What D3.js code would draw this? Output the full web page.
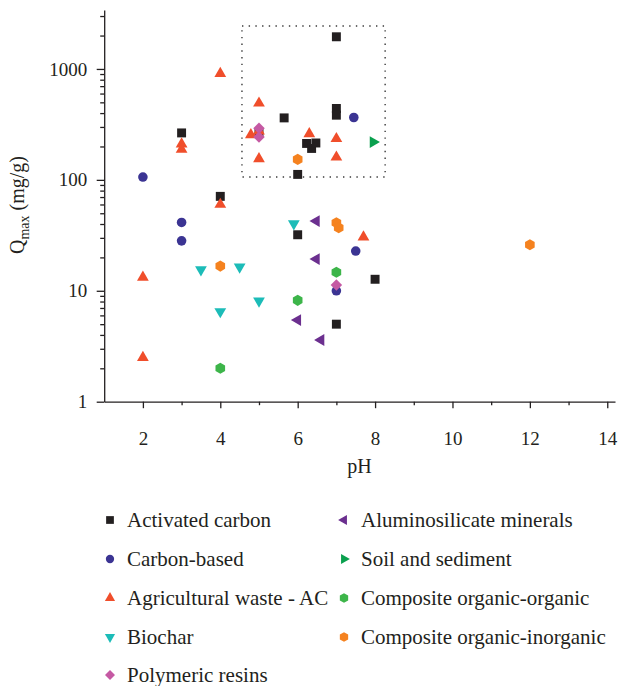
<!DOCTYPE html>
<html>
<head>
<meta charset="utf-8">
<script src="https://cdn.jsdelivr.net/npm/d3@7"></script>
<style>
  body { margin: 0; background: #fff; }
  svg { display: block; }
  svg text { font-family: "Times New Roman", "Liberation Serif", Tinos, "DejaVu Serif", serif; }
  .axis path, .axis line { stroke: #231f20; stroke-width: 1.3; }
  .axis text { font-size: 19px; fill: #231f20; }
  .legend text { font-size: 21px; fill: #231f20; }
</style>
</head>
<body>
<div id="chart"></div>
<script>
(function (d3) {
    'use strict';

    // Series names, in legend order.
    var categories = [
        'Activated carbon', 'Carbon-based', 'Agricultural waste - AC', 'Biochar',
        'Polymeric resins', 'Aluminosilicate minerals', 'Soil and sediment',
        'Composite organic-organic', 'Composite organic-inorganic'
    ];

    // [pH, Qmax (mg/g)].
    var activatedCarbon = [[3, 265], [4, 71], [5, 268], [5.65, 362], [6, 112], [6, 32],
        [6.23, 213], [6.36, 192], [6.47, 215], [7, 1950], [7, 440], [7, 383], [7, 5.0], [8, 12.7]];
    var carbonBased = [[2, 106], [3, 41.3], [3, 28.2], [7.45, 365], [7.5, 22.8], [7, 10.0]];
    var agriculturalWaste = [[2, 13.2], [2, 2.5], [3, 210], [3, 188], [4, 910], [4, 60],
        [4.79, 255], [5, 491], [5, 275], [5, 155], [6.3, 260], [7, 235], [7, 160], [7.7, 30.5]];
    var biochar = [[3.5, 15.5], [4.5, 16.4], [5, 8.1], [4, 6.5], [5.9, 40.3]];
    var polymericResins = [[5, 292], [5, 243], [7, 11.25]];
    var aluminosilicate = [[6.48, 42.5], [6.48, 19.3], [6.0, 5.45], [6.6, 3.6]];
    var soilSediment = [[7.95, 219]];
    var compositeOO = [[4, 2.0], [6, 8.2], [7, 14.7]];
    var compositeOI = [[4, 16.7], [6, 153], [7, 41], [7.06, 37], [12, 26]];

    var series = [activatedCarbon, carbonBased, agriculturalWaste, biochar, polymericResins,
        aluminosilicate, soilSediment, compositeOO, compositeOI];

    // Axis ticks.
    var xTicks = [2, 4, 6, 8, 10, 12, 14];
    var xMinorTicks = [3, 5, 7, 9, 11, 13];
    var yTicks = [1, 10, 100, 1000];
    var yTickLabels = ['1', '10', '100', '1000'];
    var yMinorSteps = [2, 3, 4, 5, 6, 7, 8, 9];

    // Zoomed region marked with a dotted frame.
    var boxPH = [4.56, 8.26];
    var boxQ = [106, 2440];

    var colors = ['#231f20', '#3b3493', '#f04e2b', '#1cbcb8', '#c559a3',
        '#6b2f8f', '#0aa04e', '#3db54a', '#f5821f'];

    // Hexagon marker (d3 has none).
    var symbolHexagon = {
        draw: function (context, size) {
            var r = Math.sqrt(2 * size / (3 * Math.sqrt(3)));
            for (var i = 0; i < 6; i++) {
                var a = -Math.PI / 2 + i * Math.PI / 3;
                if (i === 0) context.moveTo(r * Math.cos(a), r * Math.sin(a));
                else context.lineTo(r * Math.cos(a), r * Math.sin(a));
            }
            context.closePath();
        }
    };

    // symbol type, size, rotation for each series
    var markers = [
        {type: d3.symbolSquare, size: 80, rot: 0},
        {type: d3.symbolCircle, size: 72, rot: 0},
        {type: d3.symbolTriangle, size: 60, rot: 0},
        {type: d3.symbolTriangle, size: 60, rot: 180},
        {type: d3.symbolSquare, size: 66, rot: 45},
        {type: d3.symbolTriangle, size: 60, rot: -90},
        {type: d3.symbolTriangle, size: 60, rot: 90},
        {type: symbolHexagon, size: 80, rot: 0},
        {type: symbolHexagon, size: 80, rot: 0}
    ];

    var margin = {top: 10, left: 104.2};
    var width = 510.8;
    var height = 391.7;

    var x = d3.scaleLinear().domain([1, 14.2]).range([0, width]);
    var y = d3.scaleLog().domain([1, 3400]).range([height, 0]);

    var svg = d3.select('#chart').append('svg')
        .attr('width', 619)
        .attr('height', 686);

    var vis = svg.append('g')
        .attr('transform', 'translate(' + margin.left + ',' + margin.top + ')');

    // x-axis
    vis.append('g')
        .attr('class', 'axis x-minor')
        .attr('transform', 'translate(0,' + height + ')')
        .call(d3.axisBottom(x).tickValues(xMinorTicks).tickSize(3.5).tickFormat(''))
        .select('.domain').remove();

    vis.append('g')
        .attr('class', 'axis x-axis')
        .attr('transform', 'translate(0,' + height + ')')
        .call(d3.axisBottom(x).tickValues(xTicks).tickSize(6.5).tickSizeOuter(0).tickPadding(23));

    // y-axis
    var yMinorTicks = [];
    yTicks.forEach(function (t) {
        yMinorSteps.forEach(function (s) {
            if (t * s <= y.domain()[1]) yMinorTicks.push(t * s);
        });
    });

    vis.append('g')
        .attr('class', 'axis y-minor')
        .call(d3.axisLeft(y).tickValues(yMinorTicks).tickSize(4).tickFormat(''))
        .select('.domain').remove();

    vis.append('g')
        .attr('class', 'axis y-axis')
        .call(d3.axisLeft(y).tickValues(yTicks).tickSize(7.5).tickSizeOuter(0).tickPadding(9.5)
            .tickFormat(function (d, i) { return yTickLabels[i]; }));

    // d3 axes set font-family on the group; let the stylesheet decide instead
    vis.selectAll('.axis').attr('font-family', null).attr('font-size', null);

    // Axis titles
    svg.append('text')
        .attr('x', margin.left + width / 2)
        .attr('y', 473)
        .attr('text-anchor', 'middle')
        .style('font-size', '20px')
        .style('fill', '#231f20')
        .text('pH');

    var yTitle = svg.append('text')
        .attr('transform', 'translate(24,205) rotate(-90)')
        .attr('text-anchor', 'middle')
        .style('font-size', '20px')
        .style('fill', '#231f20');
    yTitle.append('tspan').text('Q');
    yTitle.append('tspan').attr('dy', 5).style('font-size', '14px').text('max');
    yTitle.append('tspan').attr('dy', -5).text(' (mg/g)');

    // Dotted frame
    vis.append('rect')
        .attr('x', x(boxPH[0]))
        .attr('y', y(boxQ[1]))
        .attr('width', x(boxPH[1]) - x(boxPH[0]))
        .attr('height', y(boxQ[0]) - y(boxQ[1]))
        .attr('fill', 'none')
        .attr('stroke', '#3a3a3a')
        .attr('stroke-width', 1.4)
        .attr('stroke-dasharray', '1.4,5.3');

    // Points
    series.forEach(function (pts, i) {
        var m = markers[i];
        vis.append('g')
            .attr('class', 'series')
            .selectAll('path')
            .data(pts)
            .enter().append('path')
            .attr('d', d3.symbol().type(m.type).size(m.size))
            .attr('transform', function (d) {
                return 'translate(' + x(d[0]) + ',' + y(d[1]) + ') rotate(' + m.rot + ')';
            })
            .attr('fill', colors[i]);
    });

    // Legend
    var legend = svg.append('g').attr('class', 'legend');
    var rowY = [520, 559, 598, 637, 675];
    categories.forEach(function (name, i) {
        var col = i < 5 ? 0 : 1;
        var row = col === 0 ? i : i - 5;
        var g = legend.append('g')
            .attr('transform', 'translate(' + (col === 0 ? 110 : 344) + ',' + rowY[row] + ')');
        g.append('path')
            .attr('d', d3.symbol().type(markers[i].type).size(markers[i].size * 0.75))
            .attr('transform', 'rotate(' + markers[i].rot + ')')
            .attr('fill', colors[i]);
        g.append('text')
            .attr('x', 17)
            .attr('dy', '0.35em')
            .text(name);
    });
})(d3);
</script>
</body>
</html>
